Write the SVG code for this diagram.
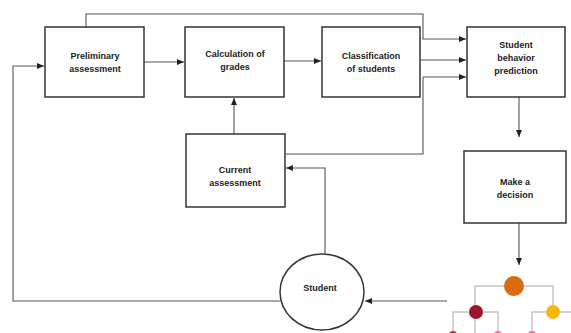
<svg xmlns="http://www.w3.org/2000/svg" width="571" height="333" viewBox="0 0 571 333">
<style>
.box{fill:#fff;stroke:#333;stroke-width:1.5}
.lbl{font-family:"Liberation Sans",Arial,sans-serif;font-size:9px;font-weight:bold;fill:#222;text-anchor:middle}
.c{fill:none;stroke:#555;stroke-width:1.1}
.t{fill:none;stroke:#c4c4c4;stroke-width:1.4}
</style>
<defs>
<marker id="ah" markerWidth="8" markerHeight="8" refX="7" refY="4" orient="auto" markerUnits="userSpaceOnUse">
<path d="M0,1 L7,4 L0,7 Z" fill="#222"/>
</marker>
</defs>
<rect width="571" height="333" fill="#fff"/>
<g id="connectors">
<path class="c" d="M86,27 V14 H423 V39 H466" marker-end="url(#ah)"/>
<path class="c" d="M144,62 H184" marker-end="url(#ah)"/>
<path class="c" d="M284,61 H321" marker-end="url(#ah)"/>
<path class="c" d="M420,60 H466" marker-end="url(#ah)"/>
<path class="c" d="M423,77 H466"  marker-end="url(#ah)"/>
<path class="c" d="M423,77 V154 H286"/>
<path class="c" d="M234,134 V98" marker-end="url(#ah)"/>
<path class="c" d="M325,254 V168 H286" marker-end="url(#ah)"/>
<path class="c" d="M280,301 H13 V66 H44" marker-end="url(#ah)"/>
<path class="c" d="M447,301 H365" marker-end="url(#ah)"/>
<path class="c" d="M519,97 V137" marker-end="url(#ah)"/>
<path class="c" d="M519,223 V265" marker-end="url(#ah)"/>
</g>
<g id="preliminary">
<rect class="box" x="45" y="27" width="99" height="70"/>
<text class="lbl" x="95" y="59">Preliminary</text>
<text class="lbl" x="95" y="72">assessment</text>
</g>
<g id="calculation">
<rect class="box" x="185" y="27" width="99" height="70"/>
<text class="lbl" x="235" y="57">Calculation of</text>
<text class="lbl" x="235" y="70">grades</text>
</g>
<g id="classification">
<rect class="box" x="322" y="27" width="98" height="70"/>
<text class="lbl" x="371" y="59">Classification</text>
<text class="lbl" x="371" y="72">of students</text>
</g>
<g id="prediction">
<rect class="box" x="467" y="27" width="98" height="70"/>
<text class="lbl" x="516" y="48">Student</text>
<text class="lbl" x="516" y="61">behavior</text>
<text class="lbl" x="516" y="74">prediction</text>
</g>
<g id="current">
<rect class="box" x="186" y="134" width="99" height="73"/>
<text class="lbl" x="235" y="173">Current</text>
<text class="lbl" x="235" y="186">assessment</text>
</g>
<g id="decision">
<rect class="box" x="464" y="151" width="102" height="72"/>
<text class="lbl" x="515" y="185">Make a</text>
<text class="lbl" x="515" y="198">decision</text>
</g>
<g id="student">
<ellipse class="box" cx="322" cy="292" rx="42" ry="38"/>
<text class="lbl" x="320" y="291">Student</text>
</g>
<g id="tree">
<path class="t" d="M475,333 V286 H553 V312"/>
<path class="t" d="M453,333 V312 H498 V333"/>
<path class="t" d="M532,333 V312 H571"/>
<circle cx="514" cy="286" r="10" fill="#d96c0e"/>
<circle cx="476" cy="312" r="7" fill="#9c1528"/>
<circle cx="553" cy="312" r="7" fill="#f5b80f"/>
<circle cx="453" cy="336" r="5" fill="#b5384a"/>
<circle cx="498" cy="336" r="5" fill="#e07a9a"/>
<circle cx="532" cy="336" r="5" fill="#e07a9a"/>
</g>
</svg>
